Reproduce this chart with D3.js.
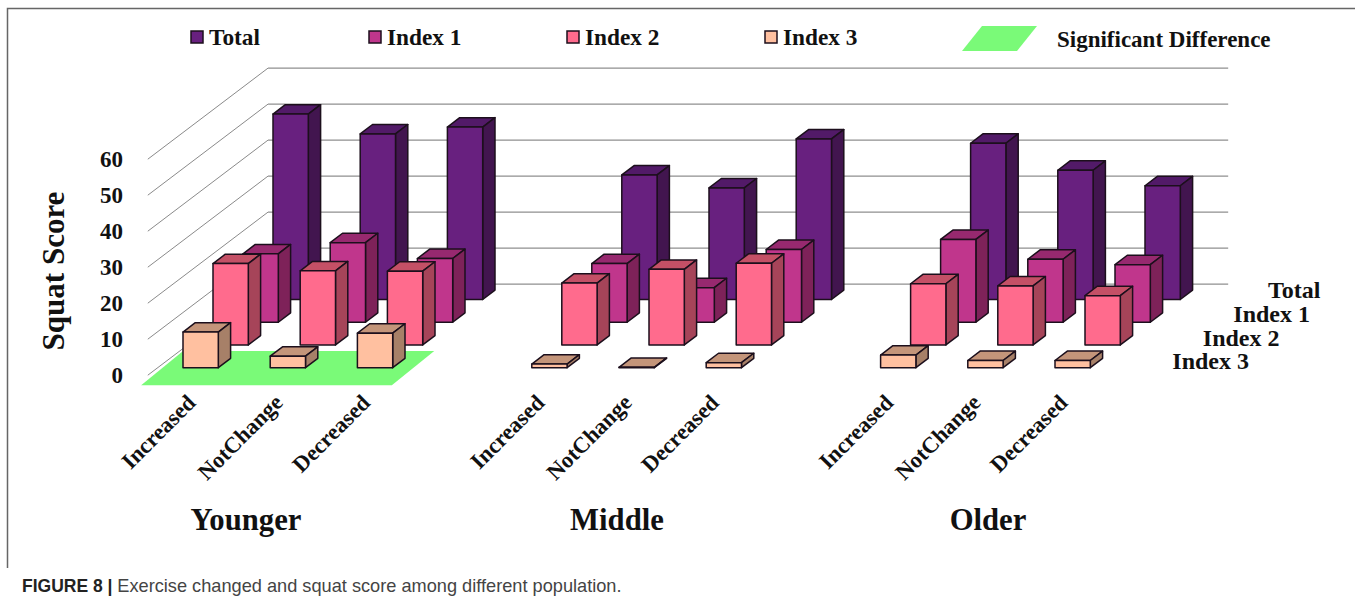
<!DOCTYPE html>
<html>
<head>
<meta charset="utf-8">
<script src="https://cdn.jsdelivr.net/npm/d3@7"></script>
<style>
html,body{margin:0;padding:0;background:#fff;}
svg{display:block;}
text.serif{font-family:"Liberation Serif",serif;font-weight:bold;fill:#111;}
</style>
</head>
<body>
<script>
// Squat score by age group, exercise change and score index.
const seriesNames = ["Total", "Index 1", "Index 2", "Index 3"];
const groups = ["Younger", "Middle", "Older"];
const changes = ["Increased", "NotChange", "Decreased"];
const valueTicks = [0, 10, 20, 30, 40, 50, 60];

// Each list runs Younger (3), Middle (3), Older (3).
const totalValues  = [51.5, 46.0, 47.9, 34.6, 31.0, 44.6, 43.4, 35.9, 31.6];
const index1Values = [19.0, 22.1, 17.7, 16.3,  9.6, 20.2, 23.0, 17.5, 16.0];
const index2Values = [22.6, 20.6, 20.5, 17.2, 21.0, 22.7, 17.0, 16.4, 13.7];
const index3Values = [ 9.9,  3.2,  9.6,  1.0,  0.1,  1.4,  3.5,  2.0,  2.0];
const seriesValues = [totalValues, index1Values, index2Values, index3Values];

const seriesColors = [
  {front: "#68207f", side: "#42154f", top: "#521a68"},
  {front: "#c0368c", side: "#7e2259", top: "#97296f"},
  {front: "#ff6b8d", side: "#a64459", top: "#c45066"},
  {front: "#ffc0a0", side: "#a78068", top: "#c4957a"}
];

const W = 1355, H = 606;
const svg = d3.select("body").append("svg").attr("width", W).attr("height", H);

// Oblique projection: slot runs along the floor, depth runs from the back row
// (Total = 0) towards the viewer (Index 3 = 3), value rises vertically.
const slotX = d3.scaleLinear().domain([0, 10]).range([273, 1145]);
const depthDX = d3.scaleLinear().domain([0, 3]).range([0, -90]);
const depthY = d3.scaleLinear().domain([0, 3]).range([299.5, 367.7]);
const heightOf = d3.scaleLinear().domain([0, 60]).range([0, 216]);
const project = (slot, depth, value) => [
  slotX(slot) + depthDX(depth),
  depthY(depth) - heightOf(value)
];
const barWidth = 35.3, barDX = 12.3, barDY = 9.4;
const slotOf = i => i + Math.floor(i / 3);   // one empty slot between age groups
const path = pts => "M" + pts.map(p => p.join(",")).join("L") + "Z";

// Frame
svg.append("path").attr("d", "M1355,8.5H7.5V568")
  .attr("fill", "none").attr("stroke", "#666").attr("stroke-width", 1.5);

// Walls and their gridlines
const wallDepth = -0.68, frontDepth = 3.33, wallLeft = -0.29, wallRight = 10.72;
const grid = svg.append("g");
grid.selectAll("line.back").data(valueTicks).join("line").attr("class", "back")
  .attr("x1", v => project(wallLeft, wallDepth, v)[0])
  .attr("y1", v => project(wallLeft, wallDepth, v)[1])
  .attr("x2", v => project(wallRight, wallDepth, v)[0])
  .attr("y2", v => project(wallRight, wallDepth, v)[1])
  .attr("stroke", "#8f8f8f").attr("stroke-width", 1.2);
grid.selectAll("line.side").data(valueTicks).join("line").attr("class", "side")
  .attr("x1", v => project(wallLeft, wallDepth, v)[0])
  .attr("y1", v => project(wallLeft, wallDepth, v)[1])
  .attr("x2", v => project(wallLeft, frontDepth, v)[0])
  .attr("y2", v => project(wallLeft, frontDepth, v)[1])
  .attr("stroke", "#8a8a8a").attr("stroke-width", 1);

// Highlighted floor under the Younger group
const sigColor = "#7afa78";
svg.append("path").attr("fill", sigColor).attr("d", path([
  project(-0.25, 2.27, 0), project(2.63, 2.27, 0),
  project(2.66, 3.77, 0), project(-0.215, 3.77, 0)
]));

// Bars, back row first so nearer rows overlap them
const rows = svg.selectAll("g.row").data(seriesValues).join("g").attr("class", "row");
rows.each(function (values, depth) {
  const c = seriesColors[depth];
  const bars = d3.select(this).selectAll("g.bar").data(values).join("g").attr("class", "bar")
    .attr("stroke", "#1c0f1c").attr("stroke-width", 1.5).attr("stroke-linejoin", "round");
  bars.append("path").attr("fill", c.top).attr("d", (v, i) => {
    const [x, y] = project(slotOf(i), depth, v);
    return path([[x, y], [x + barDX, y - barDY], [x + barWidth + barDX, y - barDY], [x + barWidth, y]]);
  });
  bars.append("path").attr("fill", c.side).attr("d", (v, i) => {
    const [x, y] = project(slotOf(i), depth, v);
    const [, y0] = project(slotOf(i), depth, 0);
    const r = x + barWidth;
    return path([[r, y], [r + barDX, y - barDY], [r + barDX, y0 - barDY], [r, y0]]);
  });
  bars.append("path").attr("fill", c.front).attr("d", (v, i) => {
    const [x, y] = project(slotOf(i), depth, v);
    const [, y0] = project(slotOf(i), depth, 0);
    return path([[x, y], [x + barWidth, y], [x + barWidth, y0], [x, y0]]);
  });
});

// Value axis labels along the front of the side wall
svg.selectAll("text.tick").data(valueTicks).join("text")
  .attr("class", "serif tick").attr("text-anchor", "end")
  .attr("x", 123).attr("y", v => project(wallLeft, frontDepth, v)[1] + 8)
  .attr("font-size", 23).text(d => d);

svg.append("text").attr("class", "serif")
  .attr("transform", "translate(63.5,271) rotate(-90)")
  .attr("text-anchor", "middle").attr("font-size", 31).text("Squat Score");

// Category labels, slanted under each bar cluster
const catLabels = d3.range(9).map(i => ({name: changes[i % 3], i}));
svg.selectAll("text.cat").data(catLabels).join("text")
  .attr("class", "serif cat").attr("text-anchor", "end").attr("font-size", 22.6)
  .attr("transform", d => `translate(${slotX(slotOf(d.i)) - 76},404) rotate(-45)`)
  .text(d => d.name);

// Age group titles
const groupCenters = [246, 617, 988];
svg.selectAll("text.group").data(groups).join("text")
  .attr("class", "serif group").attr("text-anchor", "middle").attr("font-size", 30.7)
  .attr("x", (d, i) => groupCenters[i]).attr("y", 530).text(d => d);

// Series names along the right end of the depth axis
const depthLabelX = [1320.5, 1310, 1279.5, 1249], depthLabelY = [298, 322, 345.5, 369];
svg.selectAll("text.depth").data(seriesNames).join("text")
  .attr("class", "serif depth").attr("text-anchor", "end").attr("font-size", 24)
  .attr("x", (d, i) => depthLabelX[i]).attr("y", (d, i) => depthLabelY[i]).text(d => d);

// Legend
const legendX = [191, 369, 567, 765];
const legend = svg.selectAll("g.legend").data(seriesNames).join("g").attr("class", "legend")
  .attr("transform", (d, i) => `translate(${legendX[i]},31)`);
legend.append("rect").attr("width", 12).attr("height", 12)
  .attr("fill", (d, i) => seriesColors[i].front)
  .attr("stroke", "#1c0f1c").attr("stroke-width", 1.5);
legend.append("text").attr("class", "serif").attr("x", 18).attr("y", 14)
  .attr("font-size", 23.3).text(d => d);

svg.append("path").attr("fill", sigColor)
  .attr("d", "M982,26H1037L1017,51H962Z");
svg.append("text").attr("class", "serif").attr("x", 1057).attr("y", 47)
  .attr("font-size", 23).text("Significant Difference");

// Caption
const caption = svg.append("text").attr("x", 22).attr("y", 592)
  .attr("font-family", "Liberation Sans, Arial, sans-serif").attr("fill", "#444");
caption.append("tspan").attr("font-weight", "bold").attr("font-size", 17.5).attr("fill", "#222").text("FIGURE 8 | ");
caption.append("tspan").attr("font-size", 18.2).text("Exercise changed and squat score among different population.");
</script>
</body>
</html>
